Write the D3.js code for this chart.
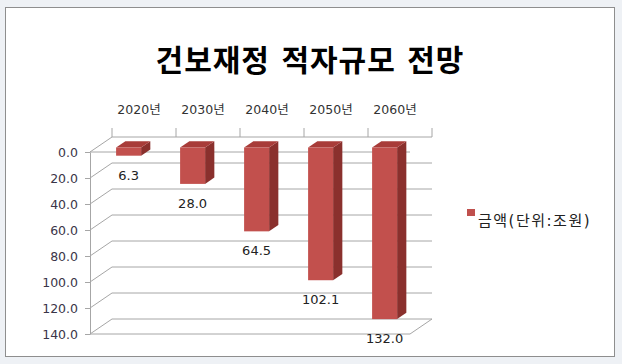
<!DOCTYPE html>
<html>
<head>
<meta charset="utf-8">
<script src="https://cdn.jsdelivr.net/npm/d3@7"></script>
<style>
  html, body { margin: 0; padding: 0; background: #eef1f5; }
  svg { display: block; }
  text { font-family: "DejaVu Sans", "Noto Sans CJK KR", sans-serif; }
</style>
</head>
<body>
<svg width="622" height="364"></svg>
<script>
const years = ["2020년", "2030년", "2040년", "2050년", "2060년"];
const deficit = [6.3, 28.0, 64.5, 102.1, 132.0];
const yTicks = [0, 20, 40, 60, 80, 100, 120, 140];
const title = "건보재정 적자규모 전망";
const seriesName = "금액(단위:조원)";

let svg = d3.select("svg");

// chart frame
svg.append("rect").attr("x", 5.5).attr("y", 7.5).attr("width", 609).attr("height", 349)
  .attr("fill", "#fff").attr("stroke", "#8e8e8e");

svg.append("text").attr("x", 310).attr("y", 71).attr("text-anchor", "middle")
  .attr("font-family", "'Noto Sans CJK KR', sans-serif").attr("letter-spacing", "1px")
  .attr("font-size", "30px").attr("font-weight", "bold").attr("fill", "#000").text(title);

// 3d geometry: front plane + depth offset to the back wall
let depth = {dx: 22, dy: -15};
let x = d3.scaleBand().domain(years).range([90, 410]);
let y = d3.scaleLinear().domain([0, 140]).range([152, 334]);
let grid = "#a6a6a6";

let g = svg.append("g");

// back wall gridlines + side wall diagonals
yTicks.forEach(t => {
  g.append("line").attr("x1", 90 + depth.dx).attr("x2", 410 + depth.dx)
    .attr("y1", y(t) + depth.dy).attr("y2", y(t) + depth.dy).attr("stroke", grid);
  g.append("line").attr("x1", 90).attr("x2", 90 + depth.dx)
    .attr("y1", y(t)).attr("y2", y(t) + depth.dy).attr("stroke", grid);
});
// floor edges
g.append("line").attr("x1", 90).attr("x2", 410).attr("y1", y(140)).attr("y2", y(140)).attr("stroke", grid);
g.append("line").attr("x1", 410).attr("x2", 410 + depth.dx).attr("y1", y(140)).attr("y2", y(140) + depth.dy).attr("stroke", grid);
g.append("line").attr("x1", 90).attr("x2", 410).attr("y1", y(0)).attr("y2", y(0)).attr("stroke", grid);

// category ticks on the back top edge
years.concat([null]).forEach(c => {
  let xx = (c ? x(c) : x.range()[1]) + depth.dx;
  g.append("line").attr("x1", xx).attr("x2", xx).attr("y1", y(0) + depth.dy).attr("y2", y(0) + depth.dy - 9).attr("stroke", grid);
});

years.forEach(c => {
  svg.append("text").attr("x", x(c) + x.bandwidth() / 2 + 17).attr("y", 114)
    .attr("text-anchor", "middle").attr("font-size", "12.5px").attr("fill", "#333").text(c);
});

// value axis on the front plane
let axis = g.append("g").attr("transform", "translate(90,0)")
  .call(d3.axisLeft(y).tickValues(yTicks).tickFormat(d3.format(".1f")).tickSize(5).tickSizeOuter(0));
axis.select(".domain").attr("stroke", grid);
axis.selectAll(".tick line").attr("stroke", grid);
axis.selectAll(".tick text").attr("font-size", "12.5px").attr("fill", "#3a3548")
  .attr("font-family", "'DejaVu Sans', sans-serif").attr("x", -12);

// bars
let bw = 25, d0 = 0.3, d1 = 0.72;
let bars = g.selectAll(".bar").data(years.map((c, i) => ({c: c, v: deficit[i]})))
  .enter().append("g").attr("class", "bar");

function pts(a) { return a.map(p => p.join(",")).join(" "); }

bars.each(function(d) {
  let cx = x(d.c) + x.bandwidth() / 2;
  let fx = depth.dx * d0, fy = depth.dy * d0, bx = depth.dx * d1, by = depth.dy * d1;
  let l = cx - bw / 2 + fx, r = cx + bw / 2 + fx;
  let top = y(0) + fy, bot = y(d.v) + fy;
  let sel = d3.select(this);
  sel.append("polygon").attr("points", pts([[r, top], [r + bx - fx, top + by - fy], [r + bx - fx, bot + by - fy], [r, bot]]))
    .attr("fill", "#8a302d");
  sel.append("polygon").attr("points", pts([[l, top], [l + bx - fx, top + by - fy], [r + bx - fx, top + by - fy], [r, top]]))
    .attr("fill", "#a83c39");
  sel.append("rect").attr("x", l).attr("y", top).attr("width", bw).attr("height", bot - top)
    .attr("fill", "#c2504d");
  svg.append("text").attr("x", cx + fx).attr("y", bot + 24).attr("text-anchor", "middle")
    .attr("font-size", "13px").attr("fill", "#222").text(d3.format(".1f")(d.v));
});

// legend
svg.append("rect").attr("x", 467).attr("y", 209).attr("width", 8).attr("height", 7).attr("fill", "#c0504d");
svg.append("text").attr("x", 478).attr("y", 226).attr("font-size", "15px")
  .attr("font-family", "'Noto Sans CJK KR', sans-serif").attr("letter-spacing", "1.5px")
  .attr("fill", "#222").text(seriesName);
</script>
</body>
</html>
